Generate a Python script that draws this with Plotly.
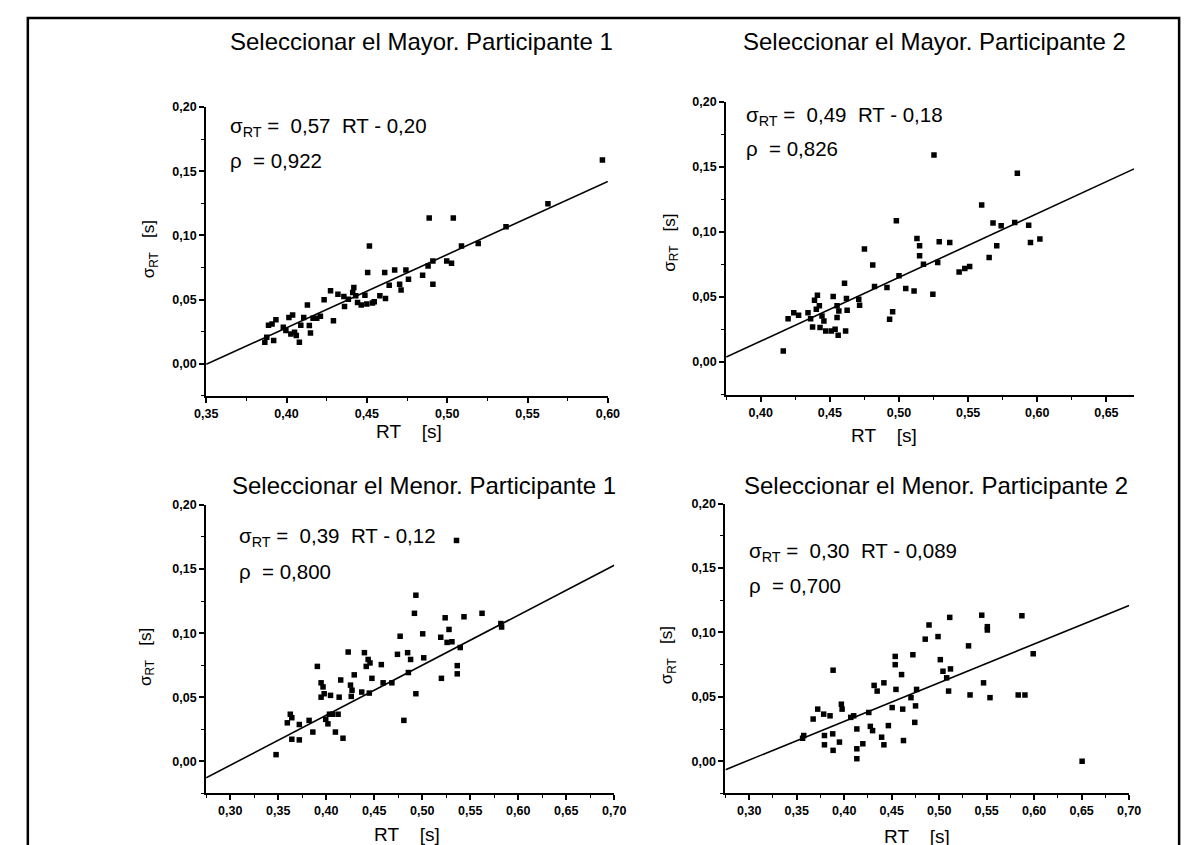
import plotly.graph_objects as go

W, H = 1189, 845

# ---------------- data ----------------
p1_rt = [0.3865, 0.3877, 0.392, 0.3888, 0.3934, 0.391, 0.398, 0.4015, 0.4038, 0.3996,
         0.4027, 0.405, 0.4061, 0.408, 0.4089, 0.4107, 0.413, 0.4142, 0.4149, 0.4165,
         0.4188, 0.4211, 0.4234, 0.4274, 0.4292, 0.432, 0.4357, 0.4361, 0.4385, 0.4412,
         0.4419, 0.4431, 0.4442, 0.4465, 0.4488, 0.4500, 0.4505, 0.4516, 0.4535, 0.4546,
         0.4581, 0.4611, 0.4616, 0.4639, 0.4673, 0.4704, 0.4713, 0.4743, 0.4759, 0.4847,
         0.4881, 0.4888, 0.4911, 0.4911, 0.4997, 0.5027, 0.5038, 0.5089, 0.5193, 0.5366,
         0.5627, 0.5966]
p1_sd = [0.0168, 0.0206, 0.018, 0.030, 0.0343, 0.031, 0.0284, 0.036, 0.038, 0.0258,
         0.0232, 0.0245, 0.0219, 0.0168, 0.030, 0.036, 0.0457, 0.0297, 0.024, 0.0354,
         0.0354, 0.0369, 0.0498, 0.0568, 0.0335, 0.0542, 0.0524, 0.0446, 0.0503, 0.0555,
         0.0594, 0.0529, 0.0477, 0.0457, 0.0534, 0.0465, 0.0710, 0.0916, 0.0472, 0.0483,
         0.0529, 0.0710, 0.0508, 0.0612, 0.0730, 0.0619, 0.0575, 0.0730, 0.0658, 0.0689,
         0.0761, 0.1135, 0.0800, 0.0619, 0.0800, 0.0782, 0.1135, 0.0916, 0.0937, 0.1066,
         0.1246, 0.1587]

p2_rt = [0.4163, 0.4198, 0.4239, 0.4274, 0.4342, 0.4361, 0.4375, 0.4389, 0.4402, 0.441,
         0.4424, 0.4429, 0.4443, 0.4457, 0.447, 0.4511, 0.4524, 0.4538, 0.4552, 0.4552,
         0.456, 0.4565, 0.4606, 0.4614, 0.462, 0.4625, 0.4709, 0.4715, 0.475, 0.481,
         0.4823, 0.4913, 0.4932, 0.4954, 0.4981, 0.5000, 0.5049, 0.5109, 0.5130, 0.5149,
         0.5149, 0.5177, 0.5245, 0.5253, 0.528, 0.5291, 0.5367, 0.5435, 0.5476, 0.5511,
         0.5598, 0.5652, 0.568, 0.5707, 0.5739, 0.5837, 0.5856, 0.5938, 0.5951, 0.6019]
p2_sd = [0.0085, 0.0333, 0.0379, 0.0359, 0.0379, 0.0333, 0.0269, 0.0474, 0.0405, 0.0513,
         0.0431, 0.0264, 0.0354, 0.0315, 0.0238, 0.0238, 0.0503, 0.0251, 0.0431, 0.0341,
         0.0205, 0.0392, 0.0605, 0.0238, 0.0487, 0.0397, 0.0482, 0.0436, 0.0867, 0.0744,
         0.058, 0.0572, 0.0328, 0.0385, 0.1085, 0.0662, 0.0564, 0.0546, 0.0949, 0.0892,
         0.0815, 0.0751, 0.0521, 0.159, 0.0764, 0.0923, 0.0918, 0.0692, 0.0718, 0.0733,
         0.1205, 0.0803, 0.1067, 0.0892, 0.1046, 0.1072, 0.1449, 0.1051, 0.0918, 0.0944]

p3_rt = [0.3478, 0.3595, 0.3626, 0.3642, 0.3642, 0.372, 0.372, 0.3822, 0.3861, 0.3908,
         0.3947, 0.3947, 0.3967, 0.3979, 0.3995, 0.4018, 0.4034, 0.4045, 0.4065, 0.4096,
         0.4124, 0.4135, 0.4151, 0.4175, 0.4229, 0.4253, 0.4261, 0.4269, 0.4292, 0.437,
         0.4398, 0.4417, 0.4437, 0.4449, 0.4456, 0.4476, 0.4574, 0.4593, 0.4684, 0.4742,
         0.4770, 0.4809, 0.4848, 0.4856, 0.4879, 0.4919, 0.4934, 0.4934, 0.5005, 0.5016,
         0.5193, 0.5200, 0.5239, 0.5259, 0.5279, 0.531, 0.5357, 0.5365, 0.5365, 0.5396,
         0.5435, 0.5623, 0.5819, 0.5827]
p3_sd = [0.0053, 0.0301, 0.0368, 0.0341, 0.0173, 0.0168, 0.0288, 0.032, 0.0229, 0.0741,
         0.0613, 0.0501, 0.0581, 0.0528, 0.0328, 0.0293, 0.0368, 0.0515, 0.0368, 0.0229,
         0.0368, 0.0501, 0.0635, 0.0181, 0.0853, 0.0595, 0.0507, 0.0555, 0.0675, 0.0541,
         0.0848, 0.0741, 0.0795, 0.0533, 0.0768, 0.0648, 0.0755, 0.0613, 0.0613, 0.0835,
         0.0976, 0.032, 0.0848, 0.0693, 0.0795, 0.1155, 0.1296, 0.0528, 0.0995, 0.0808,
         0.0968, 0.0648, 0.112, 0.0928, 0.1029, 0.0933, 0.1723, 0.0747, 0.0683, 0.0888,
         0.1128, 0.1155, 0.1075, 0.1048]

p4_rt = [0.3574, 0.3562, 0.3673, 0.3721, 0.3784, 0.3792, 0.3792, 0.3851, 0.3879, 0.3883,
         0.3883, 0.395, 0.397, 0.3978, 0.4069, 0.41, 0.4133, 0.4133, 0.4133, 0.4196,
         0.4259, 0.4275, 0.4299, 0.4315, 0.4347, 0.4394, 0.4418, 0.4418, 0.4465, 0.4505,
         0.4537, 0.4537, 0.4545, 0.4604, 0.4616, 0.4624, 0.4703, 0.4723, 0.4743, 0.4751,
         0.4762, 0.4853, 0.4893, 0.4988, 0.5012, 0.504, 0.5079, 0.5099, 0.5111, 0.5119,
         0.5309, 0.5325, 0.5448, 0.5467, 0.5507, 0.5507, 0.5535, 0.5832, 0.5871, 0.5903,
         0.599, 0.6505]
p4_sd = [0.020, 0.0179, 0.0328, 0.0405, 0.0366, 0.020, 0.0128, 0.0353, 0.0213, 0.0707,
         0.0085, 0.0149, 0.0443, 0.0405, 0.0341, 0.0353, 0.0251, 0.0097, 0.002, 0.0136,
         0.0379, 0.0271, 0.0238, 0.0589, 0.0545, 0.0187, 0.0609, 0.0128, 0.0277, 0.0417,
         0.0814, 0.075, 0.0558, 0.0673, 0.0405, 0.0161, 0.0494, 0.0827, 0.0302, 0.043,
         0.0558, 0.0948, 0.1058, 0.0968, 0.0789, 0.0699, 0.0648, 0.0545, 0.1117, 0.0717,
         0.0896, 0.0515, 0.1134, 0.0609, 0.1045, 0.1019, 0.0494, 0.0515, 0.1129, 0.0515,
         0.0835, 0.0]

titles = ["Seleccionar el Mayor. Participante 1", "Seleccionar el Mayor. Participante 2",
          "Seleccionar el Menor. Participante 1", "Seleccionar el Menor. Participante 2"]
equations = ["σ<sub>RT</sub> =  0,57  RT - 0,20", "σ<sub>RT</sub> =  0,49  RT - 0,18",
             "σ<sub>RT</sub> =  0,39  RT - 0,12", "σ<sub>RT</sub> =  0,30  RT - 0,089"]
rhos = ["ρ  = 0,922", "ρ  = 0,826", "ρ  = 0,800", "ρ  = 0,700"]
slopes = [0.57, 0.49, 0.39, 0.30]
intercepts = [-0.20, -0.18, -0.12, -0.089]
x_ranges = [(0.35, 0.60), (0.375, 0.67), (0.275, 0.70), (0.275, 0.70)]
x_ticks = [[0.35, 0.40, 0.45, 0.50, 0.55, 0.60],
           [0.40, 0.45, 0.50, 0.55, 0.60, 0.65],
           [0.30, 0.35, 0.40, 0.45, 0.50, 0.55, 0.60, 0.65, 0.70],
           [0.30, 0.35, 0.40, 0.45, 0.50, 0.55, 0.60, 0.65, 0.70]]
y_range = (-0.025, 0.20)
y_ticks = [0.00, 0.05, 0.10, 0.15, 0.20]
x_title = "RT    [s]"
y_title = "σ<sub>RT</sub>   [s]"

series = [(p1_rt, p1_sd), (p2_rt, p2_sd), (p3_rt, p3_sd), (p4_rt, p4_sd)]

# ---------------- layout geometry (pixels) ----------------
boxes = [(190, 600, 92.7, 384), (720.7, 1137, 87.3, 382.7),
         (190, 606.5, 494, 785), (720, 1132, 492.7, 785)]
title_pos = [(410, 27), (933, 27), (412, 474), (935, 474)]
eq_pos = [(212, 113, 147), (739, 102, 135), (221, 526, 561), (742, 541, 575)]
xt_pos = [(397, 420), (882, 424), (395, 826), (915, 828)]
yt_pos = [(133, 236), (664, 230), (129, 647), (661, 646)]

FONT = "Liberation Sans, Arial, Helvetica, sans-serif"


def px(x):
    return x / W


def py(y):
    return 1 - y / H


fig = go.Figure()
annotations = []

for i, (rt, sd) in enumerate(series):
    k = "" if i == 0 else str(i + 1)
    xa, ya = "x" + k, "y" + k
    x0, x1 = x_ranges[i]
    fig.add_trace(go.Scatter(x=rt, y=sd, mode="markers", xaxis=xa, yaxis=ya,
                             marker=dict(symbol="square", size=5.5, color="black"),
                             showlegend=False, hoverinfo="x+y"))
    fig.add_trace(go.Scatter(x=[x0, x1],
                             y=[slopes[i] * x0 + intercepts[i], slopes[i] * x1 + intercepts[i]],
                             mode="lines", xaxis=xa, yaxis=ya,
                             line=dict(color="black", width=1.6), showlegend=False,
                             hoverinfo="skip"))
    bx0, bx1, by0, by1 = boxes[i]
    axis_common = dict(showline=True, linecolor="black", linewidth=2, mirror=False,
                       showgrid=False, zeroline=False, ticks="outside", ticklen=5,
                       tickwidth=1.5, tickcolor="black", tickformat=".2f",
                       tickfont=dict(family=FONT, size=12.5, color="black", weight="bold"))
    fig.update_layout({
        "xaxis" + k: dict(domain=[px(bx0), px(bx1)], range=[x0 - 1e-5, x1 + 1e-5],
                          anchor=ya, tickvals=x_ticks[i],
                          minor=dict(dtick=0.025, tick0=0, ticks="outside", ticklen=3,
                                     tickwidth=1.2, tickcolor="black"),
                          **axis_common),
        "yaxis" + k: dict(domain=[py(by1), py(by0)],
                          range=[y_range[0], y_range[1] + 1e-5],
                          anchor=xa, tickvals=y_ticks,
                          minor=dict(dtick=0.025, tick0=0, ticks="outside", ticklen=3,
                                     tickwidth=1.2, tickcolor="black"),
                          **axis_common),
    })
    tx, ty = title_pos[i]
    annotations.append(dict(x=px(tx), y=py(ty), xref="paper", yref="paper",
                            text=titles[i], showarrow=False, xanchor="center",
                            yanchor="middle", font=dict(family=FONT, size=24, color="black")))
    ex, ey1, ey2 = eq_pos[i]
    annotations.append(dict(x=px(ex), y=py(ey1), xref="paper", yref="paper",
                            text=equations[i], showarrow=False, xanchor="left",
                            yanchor="middle", font=dict(family=FONT, size=20.5, color="black")))
    annotations.append(dict(x=px(ex), y=py(ey2), xref="paper", yref="paper",
                            text=rhos[i], showarrow=False, xanchor="left",
                            yanchor="middle", font=dict(family=FONT, size=20.5, color="black")))
    xtx, xty = xt_pos[i]
    annotations.append(dict(x=px(xtx), y=py(xty), xref="paper", yref="paper",
                            text=x_title, showarrow=False, xanchor="center",
                            yanchor="middle", font=dict(family=FONT, size=19, color="black")))
    ytx, yty = yt_pos[i]
    annotations.append(dict(x=px(ytx), y=py(yty), xref="paper", yref="paper",
                            text=y_title, showarrow=False, xanchor="center", textangle=-90,
                            yanchor="middle", font=dict(family=FONT, size=17, color="black")))

fig.update_layout(
    width=W, height=H, autosize=False,
    margin=dict(l=0, r=0, t=0, b=0),
    paper_bgcolor="white", plot_bgcolor="white",
    separators=", ",
    annotations=annotations,
    shapes=[dict(type="rect", xref="paper", yref="paper",
                 x0=px(8), x1=px(1183), y0=py(841), y1=py(3),
                 line=dict(color="black", width=2.5))],
)

fig.write_html("out.html")
